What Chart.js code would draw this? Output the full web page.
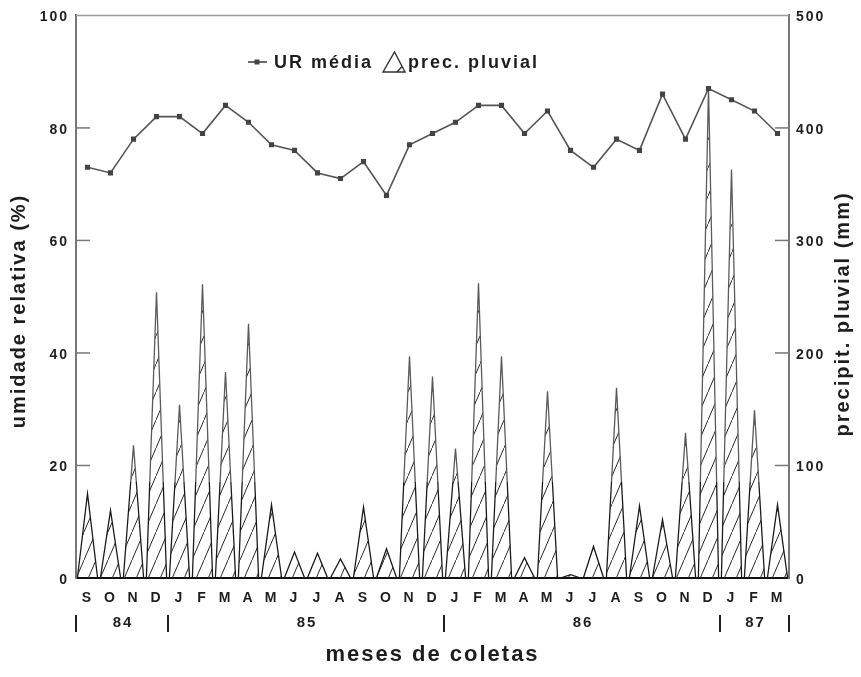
<!DOCTYPE html>
<html><head><meta charset="utf-8">
<script src="https://cdn.jsdelivr.net/npm/chart.js@4.4.0/dist/chart.umd.min.js"></script>
<style>html,body{margin:0;padding:0;background:#fff}#wrap{width:861px;height:677px;position:relative}</style>
</head><body><div id="wrap"><canvas id="c"></canvas></div>
<script>
const months = ['S','O','N','D','J','F','M','A','M','J','J','A','S','O','N','D','J','F','M','A','M','J','J','A','S','O','N','D','J','F','M'];
const urMedia = [73,72,78,82,82,79,84,81,77,76,72,71,74,68,77,79,81,84,84,79,83,76,73,78,76,86,78,87,85,83,79];
const precPluvial = [75,60,118,254,154,261,183,226,65,23,22,17,63,26,197,179,115,262,197,18,166,3,28,169,64,52,129,436,363,149,65];
const leftTicks = [0,20,40,60,80,100];
const rightTicks = [0,100,200,300,400,500];
const years = ['84','85','86','87'];
const yearBounds = [-0.5,3.5,15.5,27.5,30.5];

const FONT = "'Liberation Sans', Arial, Helvetica, sans-serif";
const INK = '#1e1e1e';
const SP = '2px';

function makeHatch(){
  const c = document.createElement('canvas'); c.width = 12; c.height = 28;
  const g = c.getContext('2d');
  g.strokeStyle = '#2a2a2a'; g.lineWidth = 1;
  g.beginPath(); g.moveTo(-1, 30.3); g.lineTo(13, -2.3); g.stroke();
  return g.createPattern(c, 'repeat');
}
const hatch = makeHatch();

const HALF = 0.44;
const triPoints = precPluvial.flatMap((v,i)=>[{x:i-HALF,y:0},{x:i,y:v},{x:i+HALF,y:0}]);
const urPoints = urMedia.map((v,i)=>({x:i,y:v}));

const spacing = {
  id:'spacing',
  beforeLayout(ch){ ch.ctx.letterSpacing = SP; },
  beforeDraw(ch){ ch.ctx.letterSpacing = SP; }
};

const decor = {
  id:'decor',
  afterDraw(ch){
    const ctx = ch.ctx, ca = ch.chartArea;
    const xs = ch.scales.x, yL = ch.scales.yL, yR = ch.scales.yR;
    ctx.save();
    ctx.letterSpacing = SP;
    ctx.strokeStyle = '#9a9a9a'; ctx.lineWidth = 1.5;
    ctx.beginPath(); ctx.moveTo(ca.left, ca.top); ctx.lineTo(ca.right, ca.top); ctx.stroke();
    ctx.strokeStyle = '#777'; ctx.lineWidth = 1.5;
    leftTicks.slice(1,-1).forEach(v=>{ const y=yL.getPixelForValue(v); ctx.beginPath(); ctx.moveTo(ca.left,y); ctx.lineTo(ca.left+14,y); ctx.stroke(); });
    rightTicks.slice(1,-1).forEach(v=>{ const y=yR.getPixelForValue(v); ctx.beginPath(); ctx.moveTo(ca.right,y); ctx.lineTo(ca.right-14,y); ctx.stroke(); });
    // legend
    ctx.strokeStyle = '#444'; ctx.lineWidth = 1.6;
    ctx.beginPath(); ctx.moveTo(248,62); ctx.lineTo(267,62); ctx.stroke();
    ctx.fillStyle = '#444'; ctx.fillRect(254.5,59.5,5,5);
    ctx.fillStyle = INK;
    ctx.font = `bold 18px ${FONT}`; ctx.textAlign='left'; ctx.textBaseline='middle';
    ctx.fillText('UR média', 274, 63);
    ctx.strokeStyle = '#333'; ctx.lineWidth = 1.4;
    ctx.beginPath(); ctx.moveTo(383,72); ctx.lineTo(394.5,52); ctx.lineTo(405,72); ctx.closePath(); ctx.stroke();
    ctx.beginPath(); ctx.moveTo(397,72); ctx.lineTo(402,66.5); ctx.stroke();
    ctx.fillText('prec. pluvial', 408, 63);
    // axis titles
    ctx.font = `bold 20px ${FONT}`; ctx.textAlign='center'; ctx.textBaseline='middle';
    ctx.save(); ctx.translate(19, 311); ctx.rotate(-Math.PI/2); ctx.fillText('umidade relativa (%)', 0, 0); ctx.restore();
    ctx.save(); ctx.translate(843, 314); ctx.rotate(-Math.PI/2); ctx.fillText('precipit. pluvial (mm)', 0, 0); ctx.restore();
    // years row
    ctx.font = `bold 15px ${FONT}`;
    yearBounds.forEach(b=>{ const px = xs.getPixelForValue(b); ctx.fillRect(px-1, 615, 2, 17); });
    years.forEach((y,i)=>{
      const px = (xs.getPixelForValue(yearBounds[i]) + xs.getPixelForValue(yearBounds[i+1]))/2;
      ctx.fillText(y, px+1, 623);
    });
    ctx.restore();
  }
};

function triBorder(c){
  const ch = c.chart, ca = ch.chartArea;
  if (!ca) return '#1a1a1a';
  const g = ch.ctx.createLinearGradient(0, ca.top, 0, ca.bottom);
  const t = 0.83;
  g.addColorStop(0,'#5a5a5a'); g.addColorStop(t,'#5a5a5a'); g.addColorStop(t,'#1a1a1a'); g.addColorStop(1,'#1a1a1a');
  return g;
}

new Chart(document.getElementById('c'), {
  type:'line',
  data:{ datasets:[
    { label:'UR média', data:urPoints, xAxisID:'x', yAxisID:'yL', borderColor:'#555', borderWidth:1.6,
      pointStyle:'rect', pointRadius:2.5, pointBackgroundColor:'#444', pointBorderColor:'#444', tension:0, fill:false, order:1 },
    { label:'prec. pluvial', data:triPoints, xAxisID:'x', yAxisID:'yR', borderColor:triBorder, borderWidth:1.3,
      pointRadius:0, tension:0, fill:'origin', backgroundColor:hatch, order:2 }
  ]},
  options:{
    responsive:true, maintainAspectRatio:false, animation:false, devicePixelRatio:1,
    layout:{ padding:{ top:15, left:0, right:0, bottom:0 } },
    plugins:{ legend:{display:false}, tooltip:{enabled:false} },
    scales:{
      x:{ type:'linear', position:'bottom', min:-0.5, max:30.5,
        afterBuildTicks:s=>{ s.ticks = months.map((m,i)=>({value:i})); },
        ticks:{ callback:v=>months[v] ?? '', autoSkip:false, maxRotation:0, minRotation:0,
          font:{family:FONT,size:14,weight:'bold'}, color:INK, padding:12 },
        grid:{display:false, drawTicks:false}, border:{color:'#111', width:2},
        title:{ display:true, text:'meses de coletas', font:{family:FONT,size:22,weight:'bold'}, color:INK, padding:{top:0,bottom:9} },
        afterFit:s=>{ s.height = 99; } },
      yL:{ type:'linear', position:'left', min:0, max:100,
        afterBuildTicks:s=>{ s.ticks = leftTicks.map(v=>({value:v})); },
        ticks:{ font:{family:FONT,size:14,weight:'bold'}, color:INK, padding:7, labelOffset:2 },
        grid:{display:false, drawTicks:false}, border:{color:'#777', width:2},
        afterFit:s=>{ s.width = 76; } },
      yR:{ type:'linear', position:'right', min:0, max:500,
        afterBuildTicks:s=>{ s.ticks = rightTicks.map(v=>({value:v})); },
        ticks:{ font:{family:FONT,size:14,weight:'bold'}, color:INK, padding:7, labelOffset:2 },
        grid:{display:false, drawTicks:false}, border:{color:'#777', width:2},
        afterFit:s=>{ s.width = 72; } }
    }
  },
  plugins:[spacing, decor]
});
</script>
</body></html>
